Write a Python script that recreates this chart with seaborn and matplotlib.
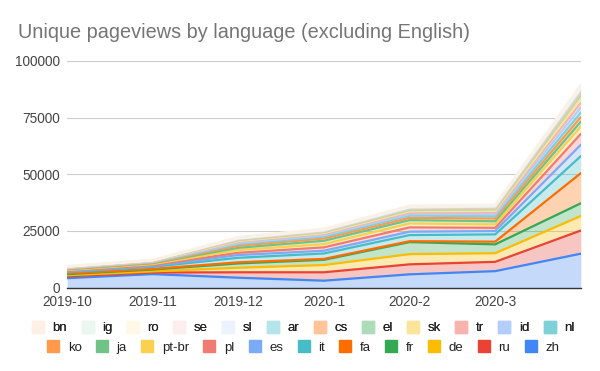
import numpy as np
import pandas as pd
import matplotlib
matplotlib.use("Agg")
import matplotlib.pyplot as plt
import seaborn as sns
from matplotlib.lines import Line2D

# months on the x axis (last point has no label in the original)
months = ["2019-10", "2019-11", "2019-12", "2020-1", "2020-2", "2020-3", "2020-4"]
tick_labels = ["2019-10", "2019-11", "2019-12", "2020-1", "2020-2", "2020-3", ""]

# stacking order, bottom to top
languages = ["zh", "ru", "de", "fr", "fa", "it", "es", "pl", "pt-br", "ja", "ko",
             "nl", "id", "tr", "sk", "el", "cs", "ar", "sl", "se", "ro", "ig", "bn"]

zh = [4200, 6000, 4400, 3100, 5900, 7300, 15000]
ru = [800, 700, 2400, 3700, 4400, 4100, 10200]
de = [500, 500, 2000, 3200, 4500, 3800, 6400]
fr = [500, 800, 1900, 2300, 5300, 3900, 5600]
fa = [300, 300, 500, 400, 400, 1200, 13300]
it = [600, 900, 2000, 2400, 2700, 3200, 7500]
es = [300, 400, 1200, 1200, 1500, 1500, 5000]
pl = [300, 400, 1000, 1500, 1900, 1400, 4800]
pt_br = [300, 400, 1200, 1400, 1700, 1500, 3200]
ja = [300, 400, 1000, 1500, 1500, 1400, 2200]
ko = [200, 200, 900, 1000, 1000, 1200, 2000]
nl = [200, 250, 700, 800, 1000, 1000, 2000]
id_ = [150, 150, 500, 600, 600, 900, 2200]
tr = [150, 150, 500, 600, 700, 800, 2100]
sk = [100, 150, 400, 400, 600, 700, 1800]
el = [100, 100, 300, 400, 500, 600, 1500]
cs = [100, 100, 300, 300, 500, 500, 1100]
ar = [100, 100, 300, 300, 400, 500, 1100]
sl = [50, 50, 200, 200, 300, 300, 700]
se = [50, 50, 200, 200, 300, 300, 600]
ro = [50, 50, 200, 200, 200, 200, 500]
ig = [50, 50, 100, 100, 100, 100, 300]
bn = [100, 100, 200, 200, 200, 200, 400]

series = [zh, ru, de, fr, fa, it, es, pl, pt_br, ja, ko,
          nl, id_, tr, sk, el, cs, ar, sl, se, ro, ig, bn]

colors = ["#4285F4", "#EA4335", "#FBBC04", "#34A853", "#FF6D01", "#46BDC6",
          "#7BAAF7", "#F07B72", "#FCD04F", "#71C287", "#FF994D", "#7ED1D7",
          "#B3CEFB", "#F7B4AE", "#FDE49B", "#AEDCBA", "#FFC599", "#B5E5E8",
          "#ECF3FE", "#FDEDEC", "#FFF8E6", "#EBF6EE", "#FFF0E6"]

sns.set_theme(style="whitegrid")
plt.rcParams["font.family"] = ["Liberation Sans", "DejaVu Sans"]

# long table of cumulative tops
x = np.arange(len(months))
cum = np.cumsum(np.array(series), axis=0)
rows = []
for i, lang in enumerate(languages):
    for j in x:
        rows.append({"lang": lang, "x": j, "top": cum[i, j]})
df = pd.DataFrame(rows)

fig, ax = plt.subplots(figsize=(6, 3.71), dpi=100)
fig.subplots_adjust(left=0.112, right=0.968, top=0.836, bottom=0.2245)

prev = np.zeros(len(x))
for i, lang in enumerate(languages):
    ax.fill_between(x, prev, cum[i], color=colors[i], alpha=0.3, lw=0, zorder=2)
    prev = cum[i]

sns.lineplot(data=df, x="x", y="top", hue="lang", hue_order=languages,
             palette=colors, lw=1.6, legend=False, ax=ax, zorder=3)

ax.set_xlim(0, 6)
ax.set_ylim(0, 100000)
ax.set_yticks([0, 25000, 50000, 75000, 100000])
ax.set_xticks(x)
ax.set_xticklabels(tick_labels)
ax.set_xlabel("")
ax.set_ylabel("")
ax.tick_params(axis="both", labelsize=9.8, colors="#444444", length=0)
ax.tick_params(axis="x", pad=5)
ax.tick_params(axis="y", pad=5)
ax.grid(axis="y", color="#cccccc", lw=0.8)
ax.grid(axis="x", visible=False)
for s in ["top", "right", "left"]:
    ax.spines[s].set_visible(False)
ax.spines["bottom"].set_color("#333333")
ax.spines["bottom"].set_linewidth(1)
ax.spines["bottom"].set_zorder(5)

fig.text(0.03, 0.912, "Unique pageviews by language (excluding English)",
         fontsize=14.3, color="#757575", ha="left", va="center")

# legend: two centred rows, top of stack first
order = list(range(len(languages)))[::-1]
def handles(idx):
    return [Line2D([], [], marker="s", ls="", markersize=9, color=colors[i],
                   label=languages[i]) for i in idx]

leg1 = fig.legend(handles=handles(order[:12]), loc="center", ncol=12,
                  bbox_to_anchor=(0.505, 0.115), frameon=False, fontsize=9.5,
                  handlelength=1, handletextpad=0.6, columnspacing=1.05,
                  labelcolor="#222222")
fig.legend(handles=handles(order[12:]), loc="center", ncol=11,
           bbox_to_anchor=(0.505, 0.062), frameon=False, fontsize=9.5,
           handlelength=1, handletextpad=0.6, columnspacing=1.05,
           labelcolor="#222222")
fig.add_artist(leg1)

fig.savefig("out.png", dpi=100)
